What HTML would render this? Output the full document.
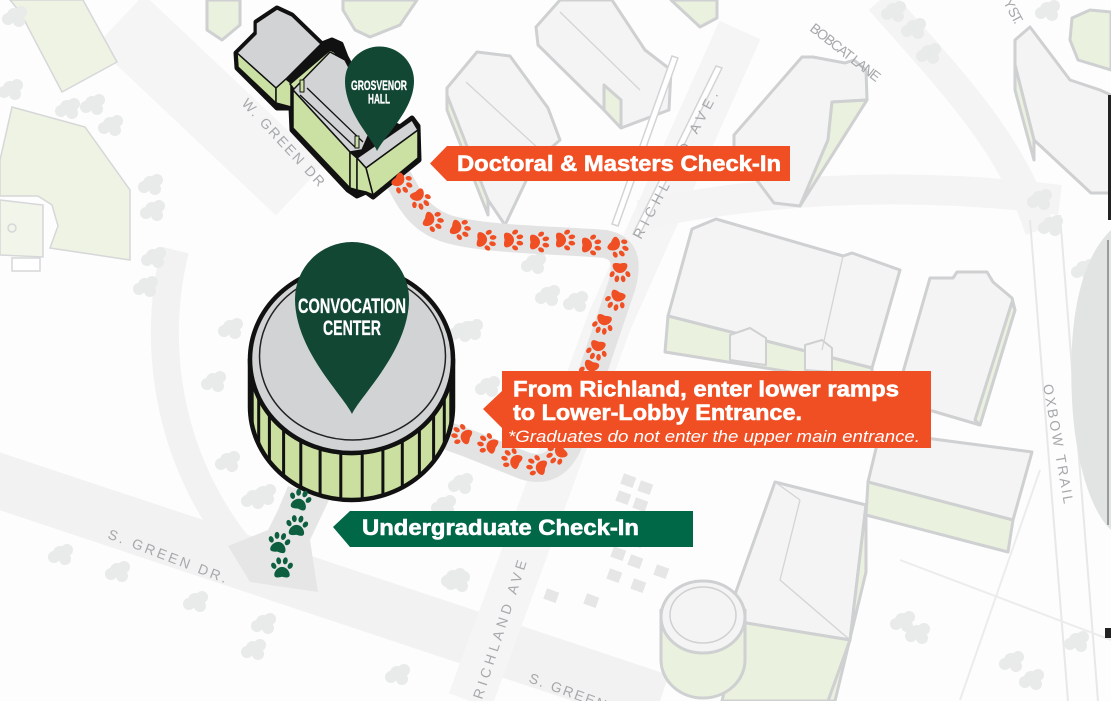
<!DOCTYPE html>
<html><head><meta charset="utf-8">
<style>
html,body{margin:0;padding:0;background:#fff;}
svg{display:block;}
.lbl{font-family:"Liberation Sans",sans-serif;fill:#a6a8ab;font-size:14px;}
.bn{font-family:"Liberation Sans",sans-serif;font-weight:bold;fill:#fff;stroke:#fff;stroke-width:0.6;}
.pn{font-family:"Liberation Sans",sans-serif;font-weight:bold;fill:#fff;stroke:#fff;stroke-width:0.3;}
</style></head><body>
<svg width="1111" height="701" viewBox="0 0 1111 701" xmlns="http://www.w3.org/2000/svg">
<defs>
 <g id="paw">
  <path d="M0,-1 C4,-1 7,3 7,6 C7,9 4,9 0,8 C-4,9 -7,9 -7,6 C-7,3 -4,-1 0,-1Z"/>
  <ellipse cx="-7.5" cy="-2" rx="2.2" ry="3" transform="rotate(-30 -7.5 -2)"/>
  <ellipse cx="-3" cy="-6.5" rx="2.2" ry="3.2" transform="rotate(-10 -3 -6.5)"/>
  <ellipse cx="3" cy="-6.5" rx="2.2" ry="3.2" transform="rotate(10 3 -6.5)"/>
  <ellipse cx="7.5" cy="-2" rx="2.2" ry="3" transform="rotate(30 7.5 -2)"/>
 </g>
 <g id="tree">
  <circle cx="0" cy="0" r="7"/><circle cx="7" cy="-3" r="6"/><circle cx="-6" cy="4" r="6"/><circle cx="5" cy="6" r="6"/>
 </g>
</defs>

<rect width="1111" height="701" fill="#fdfdfd"/>

<g fill="none" stroke-linecap="butt">
 <path d="M-10,478 L660,701" stroke="#f2f2f2" stroke-width="55"/>
 <path d="M120,20 L300,190" stroke="#f5f5f5" stroke-width="70"/>
 <path d="M175,250 C150,350 170,470 250,560" stroke="#f2f2f2" stroke-width="28"/>
 <path d="M740,30 L610,320 L470,701" stroke="#f5f5f5" stroke-width="45"/>
 <path d="M640,215 C760,190 900,180 1060,200" stroke="#f4f4f4" stroke-width="30"/>
 <path d="M880,0 C950,80 1010,140 1040,230" stroke="#f4f4f4" stroke-width="30"/>
 <path d="M1030,220 L1068,701" stroke="#e8e8e8" stroke-width="2"/>
 <path d="M1060,215 L1098,701" stroke="#e8e8e8" stroke-width="2"/>
 <path d="M900,560 L1111,640" stroke="#ececec" stroke-width="2"/>
 <path d="M960,700 L1040,470" stroke="#ececec" stroke-width="2"/>
</g>

<g fill="#eef3e4" stroke="#d6d7d8" stroke-width="1.5">
 <polygon points="10,0 83,0 117,62 62,92 20,12"/>
 <polygon points="12,107 85,127 130,190 130,260 50,248 58,226 52,205 38,196 0,196 0,160"/>
 <polygon points="0,200 43,205 43,257 0,255" fill="#f1f5ea"/>
 <circle cx="12" cy="228" r="4" fill="none"/>
 <rect x="12" y="258" width="28" height="13" fill="#fff"/>
</g>

<g fill="#e9eaea">
 <use href="#tree" transform="translate(14,15)"/><use href="#tree" transform="translate(10,88)"/>
 <use href="#tree" transform="translate(67,107)"/><use href="#tree" transform="translate(92,103)"/>
 <use href="#tree" transform="translate(110,124)"/><use href="#tree" transform="translate(150,183)"/>
 <use href="#tree" transform="translate(152,209)"/><use href="#tree" transform="translate(153,256)"/>
 <use href="#tree" transform="translate(230,327)"/><use href="#tree" transform="translate(213,380)"/>
 <use href="#tree" transform="translate(227,460)"/><use href="#tree" transform="translate(253,497)"/>
 <use href="#tree" transform="translate(60,553)"/><use href="#tree" transform="translate(117,570)"/>
 <use href="#tree" transform="translate(195,600)"/><use href="#tree" transform="translate(263,622)"/>
 <use href="#tree" transform="translate(253,648)"/><use href="#tree" transform="translate(460,330)"/>
 <use href="#tree" transform="translate(487,385)"/><use href="#tree" transform="translate(460,482)"/>
 <use href="#tree" transform="translate(443,504)"/><use href="#tree" transform="translate(457,580)"/>
 <use href="#tree" transform="translate(397,673)"/><use href="#tree" transform="translate(533,262)"/>
 <use href="#tree" transform="translate(547,294)"/><use href="#tree" transform="translate(470,328)"/>
 <use href="#tree" transform="translate(575,300)"/><use href="#tree" transform="translate(893,10)"/>
 <use href="#tree" transform="translate(913,27)"/><use href="#tree" transform="translate(928,52)"/>
 <use href="#tree" transform="translate(1047,9)"/><use href="#tree" transform="translate(1039,198)"/>
 <use href="#tree" transform="translate(1050,224)"/><use href="#tree" transform="translate(1083,268)"/>
 <use href="#tree" transform="translate(902,620)"/><use href="#tree" transform="translate(917,632)"/>
 <use href="#tree" transform="translate(1011,660)"/><use href="#tree" transform="translate(1031,678)"/>
 <use href="#tree" transform="translate(1076,640)"/><use href="#tree" transform="translate(263,493)"/>
 <use href="#tree" transform="translate(453,577)"/><use href="#tree" transform="translate(145,285)"/>
</g>

<g fill="#e6e6e6">
 <rect x="622" y="475" width="13" height="11" transform="rotate(20 628 480)"/>
 <rect x="639" y="482" width="13" height="11" transform="rotate(20 645 487)"/>
 <rect x="617" y="492" width="13" height="11" transform="rotate(20 623 497)"/>
 <rect x="634" y="499" width="13" height="11" transform="rotate(20 640 504)"/>
 <rect x="630" y="535" width="13" height="11" transform="rotate(20 636 540)"/>
 <rect x="612" y="548" width="13" height="11" transform="rotate(20 618 553)"/>
 <rect x="629" y="556" width="13" height="11" transform="rotate(20 635 561)"/>
 <rect x="608" y="570" width="13" height="11" transform="rotate(20 614 575)"/>
 <rect x="632" y="580" width="13" height="11" transform="rotate(20 638 585)"/>
 <rect x="655" y="566" width="13" height="11" transform="rotate(20 661 571)"/>
 <rect x="545" y="590" width="13" height="11" transform="rotate(20 551 595)"/>
 <rect x="585" y="595" width="13" height="11" transform="rotate(20 591 600)"/>
</g>

<g stroke="#cfd0d1" stroke-width="3" stroke-linejoin="round">
 <polygon points="207,0 240,0 240,25 222,40 207,30" fill="#eaf1de"/>
 <polygon points="343,0 417,0 400,25 370,37 355,30 343,10" fill="#eaf1de"/>
 <polygon points="447,88 477,52 510,56 548,108 560,140 535,162 505,225 488,200 447,108" fill="#f4f4f4"/>
 <polygon points="447,95 488,200 488,215 447,110" fill="#eaf1de"/>
 <polygon points="536,27 560,0 612,0 645,50 671,70 669,110 621,128 604,110 538,45" fill="#f4f4f4"/>
 <polygon points="604,110 621,128 621,100 604,85" fill="#eaf1de"/>
 <polygon points="671,0 717,0 717,18 700,27" fill="#eaf1de"/>
 <polygon points="734,135 802,57 813,57 845,63 854,60 866,70 867,100 832,102 828,140 800,206 774,203 734,150" fill="#f4f4f4"/>
 <polygon points="828,140 832,102 867,100 800,206" fill="#eaf1de"/>
 <polygon points="1015,40 1030,27 1070,80 1100,90 1111,95 1111,193 1091,193 1034,140 1015,65" fill="#f4f4f4"/>
 <polygon points="1015,65 1034,140 1034,160 1015,90" fill="#eaf1de"/>
 <polygon points="1072,18 1090,10 1111,12 1111,70 1078,60 1070,40" fill="#eaf1de"/>
 <polygon points="668,316 692,229 716,219 843,256 852,253 900,270 872,368" fill="#f4f4f4"/>
 <polygon points="668,316 872,368 872,385 665,352" fill="#eaf1de"/>
 <polygon points="730,335 750,328 766,338 766,365 730,360" fill="#f4f4f4" stroke-width="2"/>
 <polygon points="805,345 822,340 832,348 832,372 805,370" fill="#f4f4f4" stroke-width="2"/>
 <polygon points="930,278 953,278 957,272 987,272 993,282 1012,298 1015,310 980,425 895,400" fill="#f4f4f4"/>
 <polygon points="1012,302 1015,310 980,425 975,420" fill="#eaf1de"/>
 <polygon points="880,432 1032,452 1013,520 868,482" fill="#f4f4f4"/>
 <polygon points="868,482 1013,520 1008,552 866,515" fill="#eaf1de"/>
 <polygon points="775,482 866,505 850,640 740,622 733,600" fill="#f4f4f4"/>
 <polygon points="850,640 866,505 866,572 835,701 820,701" fill="#eaf1de"/>
 <polygon points="740,622 850,640 828,701 722,701" fill="#eaf1de"/>
 <path d="M661,610 L661,660 A42,38 0 0 0 745,660 L745,610 Z" fill="#eaf1de"/>
 <ellipse cx="703" cy="617" rx="42" ry="36" fill="#f4f4f4"/>
 <ellipse cx="703" cy="615" rx="33" ry="28" fill="none" stroke-width="1.5"/>
</g>
<g stroke="#d3d4d5" stroke-width="1.3" fill="none">
 <line x1="843" y1="256" x2="822" y2="350"/>
 <line x1="775" y1="482" x2="800" y2="500"/>
 <line x1="800" y1="500" x2="780" y2="580"/>
 <line x1="780" y1="580" x2="850" y2="640"/>
 <line x1="466" y1="82" x2="540" y2="150"/>
 <line x1="560" y1="12" x2="640" y2="90"/>
</g>
<g fill="#fff" stroke="#d3d4d5" stroke-width="1.5">
 <polygon points="672,56 678,58 618,226 612,224"/>
 <polygon points="716,66 722,68 639,236 633,234"/>
</g>
<path d="M1111,230 C1080,260 1068,320 1072,400 C1075,460 1090,510 1111,530 Z" fill="#e2e3e3"/>
<rect x="1107" y="240" width="2" height="285" fill="#9a9b9c"/>
<rect x="1108" y="95" width="3" height="125" fill="#222"/>
<rect x="1105" y="628" width="6" height="10" fill="#222"/>

<text class="lbl" transform="translate(241,104) rotate(47)" textLength="118" letter-spacing="4">W. GREEN DR</text>
<text class="lbl" transform="translate(107,538) rotate(21)" font-size="15" textLength="130" letter-spacing="4">S. GREEN DR.</text>
<text class="lbl" transform="translate(641,240) rotate(-62)" font-size="15" textLength="170" letter-spacing="5">RICHLAND AVE.</text>
<text class="lbl" transform="translate(482,700) rotate(-72)" font-size="15" textLength="150" letter-spacing="5">RICHLAND AVE</text>
<text class="lbl" transform="translate(528,682) rotate(20)" font-size="15" textLength="85" letter-spacing="4">S. GREEN</text>
<text class="lbl" transform="translate(809,30) rotate(38)" font-size="11" textLength="88" letter-spacing="3">BOBCAT LANE</text>
<text class="lbl" transform="translate(1043,385) rotate(80)" font-size="15" textLength="125" letter-spacing="4">OXBOW TRAIL</text>
<text class="lbl" transform="translate(1003,2) rotate(62)" font-size="11" textLength="26">Y ST.</text>

<path d="M398,178 C410,200 418,218 445,228 C480,240 560,240 605,244 C625,248 628,262 622,285 L600,350 C590,380 580,410 570,440 C560,465 545,472 525,466 L470,444 L448,436" fill="none" stroke="#e3e3e3" stroke-width="28" stroke-linecap="round" stroke-linejoin="round"/>
<polygon points="288,486 330,498 310,540 318,592 250,582 228,546 268,530 278,510" fill="#e6e6e6"/>

<g stroke="#111" stroke-linejoin="round">
 <polygon points="236,53 256,33 256,22 277,8 292,15 322,44 332,40 341,44 346,57 372,105 380,118 400,127 412,118 418,126 419,160 373,197 366,192 357,196 348,190 292,130 291,108 277,108 237,68" fill="#111" stroke-width="5"/>
 <polygon points="237,53 256,34 256,23 277,9 292,16 321,44 286,79 276,88" fill="#d1d3d4" stroke-width="1.5"/>
 <polygon points="237,53 276,88 276,103 238,67" fill="#cbe0a3" stroke-width="1.5"/>
 <polygon points="276,88 286,79 291,83 291,107 276,103" fill="#cbe0a3" stroke-width="1.5"/>
 <polygon points="290,84 330,50 336,53 296,92" fill="#cbe0a3" stroke-width="1.5"/>
 <polygon points="293,90 330,52 345,60 376,118 362,150 350,152" fill="#d1d3d4" stroke-width="1.5"/>
 <polygon points="293,90 350,152 350,188 293,128" fill="#cbe0a3" stroke-width="1.5"/>
 <polygon points="350,152 357,158 357,190 350,188" fill="#cbe0a3" stroke-width="1.5"/>
 <polygon points="357,158 412,120 418,130 366,168" fill="#d1d3d4" stroke-width="1.5"/>
 <polygon points="366,168 418,130 418,158 373,195" fill="#cbe0a3" stroke-width="1.5"/>
 <polygon points="357,158 366,168 373,195 366,192 357,190" fill="#cbe0a3" stroke-width="1.5"/>
 <line x1="300" y1="95" x2="356" y2="148" stroke-width="1.3"/>
 <line x1="307" y1="88" x2="363" y2="142" stroke-width="1.3"/>
 <polygon points="300,80 304,80 304,92 300,92" fill="#cbe0a3" stroke-width="1"/>
 <polygon points="355,136 359,136 359,148 355,148" fill="#cbe0a3" stroke-width="1"/>
</g>

<path d="M250,359.5 L250,406.5 A101.5,93.5 0 0 0 453,406.5 L453,359.5 A101.5,93.5 0 0 1 250,359.5 Z" fill="#cbe0a0" stroke="#111" stroke-width="4.5" stroke-linejoin="round"/>
<g stroke="#111" stroke-width="3">
 <line x1="450.8" y1="378.9" x2="450.8" y2="425.9"/>
 <line x1="444.3" y1="397.6" x2="444.3" y2="444.6"/>
 <line x1="433.6" y1="414.5" x2="433.6" y2="461.5"/>
 <line x1="419.4" y1="429" x2="419.4" y2="476"/>
 <line x1="402.3" y1="440.5" x2="402.3" y2="487.5"/>
 <line x1="382.9" y1="448.4" x2="382.9" y2="495.4"/>
 <line x1="362.2" y1="452.5" x2="362.2" y2="499.5"/>
 <line x1="340.8" y1="452.5" x2="340.8" y2="499.5"/>
 <line x1="320.1" y1="448.4" x2="320.1" y2="495.4"/>
 <line x1="300.8" y1="440.5" x2="300.8" y2="487.5"/>
 <line x1="283.6" y1="429" x2="283.6" y2="476"/>
 <line x1="269.4" y1="414.5" x2="269.4" y2="461.5"/>
 <line x1="258.7" y1="397.6" x2="258.7" y2="444.6"/>
 <line x1="252.2" y1="378.9" x2="252.2" y2="425.9"/>
</g>
<ellipse cx="351.5" cy="359.5" rx="101.5" ry="93.5" fill="#d1d3d4" stroke="#111" stroke-width="4.5"/>
<ellipse cx="352.5" cy="356" rx="93" ry="84" fill="none" stroke="#222" stroke-width="1.5"/>

<g fill="#f04e23">
 <use href="#paw" transform="translate(402,183) rotate(130) scale(1.05)"/>
 <use href="#paw" transform="translate(420,199) rotate(148) scale(1.05)"/>
 <use href="#paw" transform="translate(433,221) rotate(110) scale(1.05)"/>
 <use href="#paw" transform="translate(460,229) rotate(110) scale(1.05)"/>
 <use href="#paw" transform="translate(486,240) rotate(95) scale(1.05)"/>
 <use href="#paw" transform="translate(513,240) rotate(90) scale(1.05)"/>
 <use href="#paw" transform="translate(539,242) rotate(90) scale(1.05)"/>
 <use href="#paw" transform="translate(565,240) rotate(90) scale(1.05)"/>
 <use href="#paw" transform="translate(591,245) rotate(90) scale(1.05)"/>
 <use href="#paw" transform="translate(618,247) rotate(125) scale(1.05)"/>
 <use href="#paw" transform="translate(620,272) rotate(180) scale(1.05)"/>
 <use href="#paw" transform="translate(616,300) rotate(205) scale(1.05)"/>
 <use href="#paw" transform="translate(603,324) rotate(195) scale(1.05)"/>
 <use href="#paw" transform="translate(597,350) rotate(193) scale(1.05)"/>
 <use href="#paw" transform="translate(590,370) rotate(200) scale(1.05)"/>
 <use href="#paw" transform="translate(557,454) rotate(235) scale(1.05)"/>
 <use href="#paw" transform="translate(537,466) rotate(286) scale(1.05)"/>
 <use href="#paw" transform="translate(512,459) rotate(300) scale(1.05)"/>
 <use href="#paw" transform="translate(488,444) rotate(295) scale(1.05)"/>
 <use href="#paw" transform="translate(462,435) rotate(290) scale(1.05)"/>
</g>
<g fill="#0d5f3f">
 <use href="#paw" transform="translate(300,500) rotate(15) scale(1.1)"/>
 <use href="#paw" transform="translate(297,526) rotate(5) scale(1.1)"/>
 <use href="#paw" transform="translate(279,543) rotate(10) scale(1.1)"/>
 <use href="#paw" transform="translate(282,568) rotate(0) scale(1.1)"/>
</g>

<path d="M377,151 C372,138 345,112 345,81 A34.5,34.5 0 1 1 414,81 C414,110 385,135 377,151Z" fill="#124734"/>
<text class="pn" x="379" y="90" font-size="14" text-anchor="middle" textLength="56" lengthAdjust="spacingAndGlyphs">GROSVENOR</text>
<text class="pn" x="379" y="103.5" font-size="14" text-anchor="middle" textLength="22" lengthAdjust="spacingAndGlyphs">HALL</text>

<path d="M352,414 C343,395 295,350 295,299 A57,57 0 1 1 409,299 C409,350 361,395 352,414Z" fill="#124734"/>
<text class="pn" x="352" y="313" font-size="21" text-anchor="middle" textLength="108" lengthAdjust="spacingAndGlyphs">CONVOCATION</text>
<text class="pn" x="352" y="335" font-size="21" text-anchor="middle" textLength="58" lengthAdjust="spacingAndGlyphs">CENTER</text>

<polygon points="430,163.5 447,146 790,146 790,181 447,181" fill="#f04e23"/>
<text class="bn" x="457" y="171" font-size="22" textLength="324" lengthAdjust="spacingAndGlyphs">Doctoral &amp; Masters Check-In</text>

<polygon points="483,409 502,391 502,371 931,371 931,448 502,448 502,428" fill="#f04e23"/>
<text class="bn" x="513" y="396.5" font-size="22" textLength="386" lengthAdjust="spacingAndGlyphs">From Richland, enter lower ramps</text>
<text class="bn" x="513" y="420" font-size="22" textLength="289" lengthAdjust="spacingAndGlyphs">to Lower-Lobby Entrance.</text>
<text x="508" y="442" font-family="Liberation Sans, sans-serif" font-style="italic" font-size="16.5" fill="#fff" textLength="412" lengthAdjust="spacingAndGlyphs">*Graduates do not enter the upper main entrance.</text>

<polygon points="333,527 350,511 693,511 693,547 350,547" fill="#006747"/>
<text class="bn" x="362" y="535" font-size="22" textLength="277" lengthAdjust="spacingAndGlyphs">Undergraduate Check-In</text>
</svg>
</body></html>
